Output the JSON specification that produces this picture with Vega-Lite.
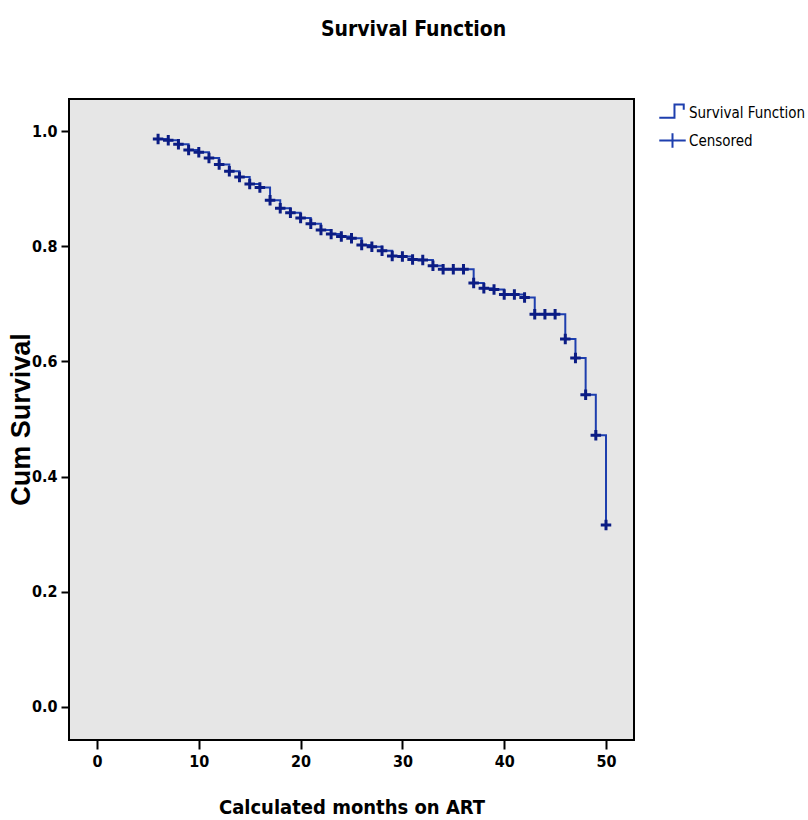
{
  "$schema": "https://vega.github.io/schema/vega-lite/v6.json",
  "width": 565,
  "height": 641,
  "autosize": {"type": "none"},
  "padding": {"left": 69, "top": 99, "right": 174, "bottom": 80},
  "background": "white",
  "config": {
    "view": {"fill": "#E6E6E6", "stroke": "black", "strokeWidth": 2},
    "font": "'Liberation Sans Narrow', 'DejaVu Sans Condensed', 'Arial Narrow', sans-serif"
  },
  "title": {
    "text": "Survival Function",
    "fontSize": 21,
    "fontWeight": "bold",
    "font": "'Liberation Sans Narrow', 'DejaVu Sans Condensed', 'Arial Narrow', sans-serif",
    "color": "black",
    "anchor": "middle",
    "dx": 62,
    "offset": 58
  },
  "data": {
    "values": [
      {"month": 6, "surv": 0.986},
      {"month": 7, "surv": 0.984},
      {"month": 8, "surv": 0.977},
      {"month": 9, "surv": 0.967},
      {"month": 10, "surv": 0.963},
      {"month": 11, "surv": 0.953},
      {"month": 12, "surv": 0.942},
      {"month": 13, "surv": 0.930},
      {"month": 14, "surv": 0.920},
      {"month": 15, "surv": 0.908},
      {"month": 16, "surv": 0.902},
      {"month": 17, "surv": 0.880},
      {"month": 18, "surv": 0.866},
      {"month": 19, "surv": 0.858},
      {"month": 20, "surv": 0.849},
      {"month": 21, "surv": 0.839},
      {"month": 22, "surv": 0.828},
      {"month": 23, "surv": 0.821},
      {"month": 24, "surv": 0.817},
      {"month": 25, "surv": 0.814},
      {"month": 26, "surv": 0.802},
      {"month": 27, "surv": 0.799},
      {"month": 28, "surv": 0.792},
      {"month": 29, "surv": 0.783},
      {"month": 30, "surv": 0.782},
      {"month": 31, "surv": 0.777},
      {"month": 32, "surv": 0.776},
      {"month": 33, "surv": 0.766},
      {"month": 34, "surv": 0.760},
      {"month": 35, "surv": 0.760},
      {"month": 36, "surv": 0.760},
      {"month": 37, "surv": 0.736},
      {"month": 38, "surv": 0.727},
      {"month": 39, "surv": 0.725},
      {"month": 40, "surv": 0.716},
      {"month": 41, "surv": 0.716},
      {"month": 42, "surv": 0.711},
      {"month": 43, "surv": 0.682},
      {"month": 44, "surv": 0.682},
      {"month": 45, "surv": 0.682},
      {"month": 46, "surv": 0.639},
      {"month": 47, "surv": 0.606},
      {"month": 48, "surv": 0.542},
      {"month": 49, "surv": 0.472},
      {"month": 50, "surv": 0.316}
    ]
  },
  "encoding": {
    "x": {
      "field": "month",
      "type": "quantitative",
      "scale": {"domain": [-2.75, 52.75], "nice": false, "zero": false},
      "axis": {
        "values": [0, 10, 20, 30, 40, 50],
        "grid": false,
        "domain": false,
        "ticks": true,
        "tickSize": 9,
        "tickWidth": 2,
        "tickColor": "black",
        "labelFontSize": 16,
        "labelFontWeight": "bold",
        "labelColor": "black",
        "labelPadding": 4,
        "title": "Calculated months on ART",
        "titleFontSize": 20,
        "titleFontWeight": "bold",
        "titleColor": "black",
        "titleY": 73,
        "titleBaseline": "alphabetic"
      }
    },
    "y": {
      "field": "surv",
      "type": "quantitative",
      "scale": {"domain": [-0.0573, 1.0556], "nice": false, "zero": false},
      "axis": {
        "values": [0, 0.2, 0.4, 0.6, 0.8, 1.0],
        "format": ".1f",
        "grid": false,
        "domain": false,
        "tickSize": 8,
        "tickWidth": 2,
        "tickColor": "black",
        "labelFontSize": 16,
        "labelFontWeight": "bold",
        "labelColor": "black",
        "labelPadding": 4,
        "title": "Cum Survival",
        "titleFont": "'Liberation Sans', Arial, sans-serif",
        "titleFontSize": 27,
        "titleFontWeight": "bold",
        "titleColor": "black",
        "titleX": -48,
        "titleY": 320,
        "titleAngle": -90,
        "titleBaseline": "middle"
      }
    }
  },
  "layer": [
    {
      "mark": {"type": "line", "interpolate": "step-after", "color": "#1E3FAE", "strokeWidth": 2}
    },
    {
      "mark": {
        "type": "point",
        "filled": false,
        "shape": "M-1,0L1,0M0,-1L0,1",
        "size": 110,
        "color": "#0B1C84",
        "strokeWidth": 3,
        "opacity": 1
      }
    },
    {
      "data": {"values": [{"k": "Survival Function"}, {"k": "Censored"}]},
      "mark": {"type": "point", "filled": false, "opacity": 0},
      "encoding": {
        "x": {"datum": 0, "type": "quantitative"},
        "y": {"datum": 0.5, "type": "quantitative"},
        "shape": {
          "field": "k",
          "type": "nominal",
          "scale": {
            "domain": ["Survival Function", "Censored"],
            "range": ["M-1,0.4L0.15,0.4L0.15,-0.6L0.85,-0.6L0.85,-0.2", "M-1,0L1,0M0,-0.55L0,0.55"]
          },
          "legend": {
            "title": null,
            "orient": "none",
            "legendX": 589,
            "legendY": -1,
            "symbolOpacity": 1,
            "symbolStrokeColor": "#1E3FAE",
            "symbolFillColor": "transparent",
            "symbolStrokeWidth": 2,
            "symbolSize": 700,
            "labelFontSize": 15,
            "labelColor": "black",
            "labelOffset": 2,
            "rowPadding": 4
          }
        }
      }
    }
  ]
}
